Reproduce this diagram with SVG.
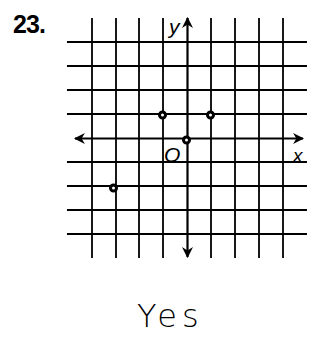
<svg xmlns="http://www.w3.org/2000/svg" width="320" height="349" viewBox="0 0 320 349">
<style>
.g{stroke:#000;stroke-width:1.8;fill:none}
.ax{stroke:#000;stroke-width:2.2;fill:none}
.pt{fill:#fff;stroke:#000;stroke-width:3}
.lbl{font-family:"Liberation Sans",Arial,sans-serif;font-style:italic;fill:#000}
</style>
<defs>
<marker id="ah" viewBox="0 0 10 10" refX="9" refY="5" markerWidth="5" markerHeight="5" orient="auto">
<path d="M0,0 L10,5 L0,10 L3,5 Z" fill="#000"/>
</marker>
</defs>
<rect width="320" height="349" fill="#fff"/>
<text x="13" y="33" font-family="Liberation Sans,Arial,sans-serif" font-weight="bold" font-size="25" textLength="33">23.</text>
<g id="grid">
<path class="g" d="M92,18V258M116,18V258M139,18V258M163,18V258M211,18V258M235,18V258M259,18V258M283,18V258"/>
<path class="g" d="M67,42H307M67,66H307M67,90H307M67,114H307M67,162H307M67,186H307M67,210H307M67,234H307"/>
</g>
<g id="axes">
<line class="ax" x1="187.5" y1="139" x2="187.5" y2="18" marker-end="url(#ah)"/>
<line class="ax" x1="187.5" y1="139" x2="187.5" y2="257" marker-end="url(#ah)"/>
<line class="ax" x1="188" y1="138.5" x2="75" y2="138.5" marker-end="url(#ah)"/>
<line class="ax" x1="188" y1="138.5" x2="303" y2="138.5" marker-end="url(#ah)"/>
</g>
<g id="labels">
<text class="lbl" x="169" y="34" font-size="21">y</text>
<text class="lbl" x="164" y="162" font-size="21">O</text>
<text class="lbl" x="293" y="162" font-size="19">x</text>
</g>
<g id="points">
<circle class="pt" cx="162.5" cy="115" r="3"/>
<circle class="pt" cx="210.5" cy="115" r="3"/>
<circle class="pt" cx="186.5" cy="140" r="3"/>
<circle class="pt" cx="113.5" cy="188" r="3"/>
</g>
<text x="137" y="327" font-family="DejaVu Sans,sans-serif" font-weight="200" font-size="32" letter-spacing="5" fill="#000">Yes</text>
</svg>
